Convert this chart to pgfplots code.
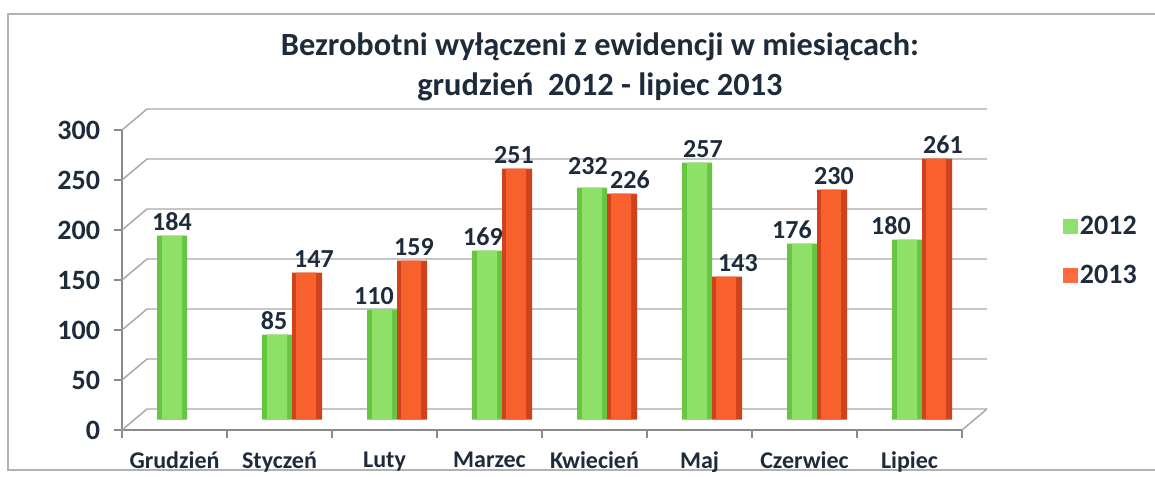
\documentclass[border=0pt]{standalone}
\usepackage{pgfplots}
\usepackage{pgfplotstable}
\pgfplotsset{compat=1.18}
\usepackage{fontspec}
\setmainfont{Carlito}
\definecolor{txt}{HTML}{1E2B3B}
\definecolor{gridc}{HTML}{A8A8A8}
\definecolor{axc}{HTML}{8A8A8A}
\definecolor{gA}{HTML}{66C640}
\definecolor{gB}{HTML}{8EE068}
\definecolor{rA}{HTML}{CF421B}
\definecolor{rB}{HTML}{F8602E}
\definecolor{gL}{HTML}{8EE070}
\definecolor{rL}{HTML}{FF6B40}
% x value dx dy (dx, dy: label offsets in pt)
\pgfplotstableread{
x y dx dy
0 184 0 0
1 85 -2.25 0
2 110 -6 0
3 169 -3 0
4 232 -3 6
5 257 4.5 0
6 176 -7.5 0
7 180 -12 0
}\tA
\pgfplotstableread{
x y dx dy
1 147 5.25 0
2 159 1.5 0
3 251 -2.25 0
4 226 6 0
5 143 8.25 0
6 230 1.5 0
7 261 4.5 0
}\tB
\begin{document}
\begin{tikzpicture}
\path[use as bounding box] (0,0) rectangle (866.25pt,357pt);
\draw[gray!60, line width=1pt] (866.25pt,346.5pt) -- (6pt,346.5pt) -- (6pt,4.5pt) -- (866.25pt,4.5pt);

\begin{axis}[
  at={(91.5pt,34.5pt)}, anchor=south west,
  scale only axis, width=630pt, height=225pt,
  xmin=-0.5, xmax=7.5, ymin=0, ymax=300,
  clip=false,
  axis x line*=bottom, axis y line*=left,
  axis line style={axc, line width=1pt},
  ytick={0,50,...,300},
  xtick={0,...,7},
  xticklabels={Grudzień,Styczeń,Luty,Marzec,Kwiecień,Maj,Czerwiec,Lipiec},
  minor xtick={-0.5,0.5,...,7.5},
  major x tick style={draw=none},
  tick align=outside,
  tick style={axc, line width=1pt},
  major tick length=6pt, minor tick length=6pt,
  /pgf/number format/assume math mode=true,
  yticklabel style={font=\bfseries\fontsize{21}{22}\selectfont, text=txt, xshift=-7pt},
  xticklabel style={font=\bfseries\fontsize{18}{19}\selectfont, text=txt, yshift=-7pt},
  title={Bezrobotni wyłączeni z ewidencji w miesiącach:\\grudzień\ \ 2012 - lipiec 2013},
  title style={at={(0.569,1.184)}, anchor=center, align=center,
    font=\bfseries\fontsize{24.3}{30}\selectfont, text=txt},
]
\pgfplotsinvokeforeach{0,50,100,150,200,250,300}{
  \draw[gridc, line width=1.1pt] (axis cs:-0.5,#1) -- (axis cs:-0.2619,#1+21) -- (axis cs:7.7381,#1+21);
}
\draw[gridc, line width=1.1pt] (axis cs:7.5,0) -- (axis cs:7.7381,21);
\end{axis}

\begin{axis}[
  at={(100.875pt,42.375pt)}, anchor=south west,
  scale only axis, width=630pt, height=225pt,
  xmin=-0.5, xmax=7.5, ymin=0, ymax=300,
  hide axis, clip=false,
  bar width=22.5pt,
  /pgf/number format/assume math mode=true,
  legend entries={2012,2013},
  legend style={at={(1.1,0.698)}, anchor=north west, draw=none, fill=none,
    font=\bfseries\fontsize{21}{22}\selectfont, text=txt, row sep=17.5pt},
  legend cell align=left,
  lbl/.style={draw=none, mark=none, forget plot, nodes near coords,
    point meta=\thisrow{y},
    nodes near coords style={anchor=south, font=\bfseries\fontsize{19.5}{20}\selectfont, text=txt}},
]
\addlegendimage{legend image code/.code={\fill[gL] (0pt,-5.25pt) rectangle (10.5pt,5.25pt);}}
\addlegendimage{legend image code/.code={\fill[rL] (0pt,-5.25pt) rectangle (10.5pt,5.25pt);}}
\addplot[ybar, bar shift=-11.25pt, draw=none, fill=gA, forget plot] table[x=x,y=y] {\tA};
\addplot[ybar, bar shift=-11.25pt, bar width=15pt, draw=none, fill=gB, forget plot] table[x=x,y=y] {\tA};
\addplot[ybar, bar shift=11.25pt, draw=none, fill=rA, forget plot] table[x=x,y=y] {\tB};
\addplot[ybar, bar shift=10.5pt, bar width=15pt, draw=none, fill=rB, forget plot] table[x=x,y=y] {\tB};
\addplot[lbl] table[x expr=\thisrow{x}-0.142857+\thisrow{dx}/78.75, y expr=\thisrow{y}+\thisrow{dy}/0.75] {\tA};
\addplot[lbl] table[x expr=\thisrow{x}+0.142857+\thisrow{dx}/78.75, y expr=\thisrow{y}+\thisrow{dy}/0.75] {\tB};
\end{axis}
\end{tikzpicture}
\end{document}
